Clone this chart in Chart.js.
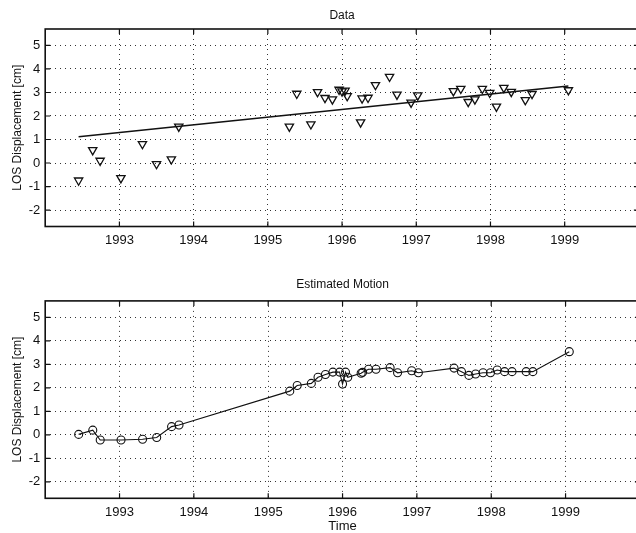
<!DOCTYPE html>
<html>
<head>
<meta charset="utf-8">
<script src="https://cdn.jsdelivr.net/npm/chart.js@4.4.1/dist/chart.umd.min.js"></script>
<style>
  html, body { margin: 0; padding: 0; background: #fff; overflow: hidden; width: 636px; height: 533px; }
  .panel { position: absolute; left: 0; }
  #topPanel { top: 0; }
  #botPanel { top: 262px; }
</style>
</head>
<body>
<div class="panel" id="topPanel"><canvas id="dataChart" width="645" height="262"></canvas></div>
<div class="panel" id="botPanel"><canvas id="motionChart" width="645" height="271"></canvas></div>
<script>
// acquisition dates (decimal years)
const dates = [1992.45, 1992.64, 1992.74, 1993.02, 1993.31, 1993.50, 1993.70, 1993.80,
  1995.29, 1995.39, 1995.58, 1995.67, 1995.77, 1995.87, 1995.96, 1996.00, 1996.04, 1996.07,
  1996.25, 1996.27, 1996.35, 1996.45, 1996.64, 1996.74, 1996.93, 1997.02,
  1997.50, 1997.60, 1997.70, 1997.79, 1997.89, 1997.99, 1998.08, 1998.18, 1998.28,
  1998.47, 1998.56, 1999.05];

// observed LOS displacement (top panel, triangles)
const observed = [-0.74, 0.55, 0.10, -0.64, 0.81, -0.04, 0.16, 1.55,
  1.55, 2.95, 1.65, 3.02, 2.77, 2.71, 3.12, 3.05, 3.08, 2.85,
  1.73, 2.75, 2.78, 3.32, 3.67, 2.91, 2.57, 2.88,
  3.06, 3.16, 2.60, 2.71, 3.16, 2.99, 2.40, 3.20, 3.03,
  2.68, 2.94, 3.10];

// estimated motion (bottom panel, circles)
const estimated = [0.02, 0.20, -0.22, -0.22, -0.19, -0.11, 0.35, 0.42,
  1.86, 2.10, 2.19, 2.45, 2.57, 2.67, 2.67, 2.16, 2.67, 2.45,
  2.62, 2.66, 2.79, 2.79, 2.86, 2.64, 2.73, 2.64,
  2.84, 2.69, 2.53, 2.59, 2.64, 2.64, 2.76, 2.69, 2.69,
  2.69, 2.69, 3.54];

// linear trend in the top panel
const fitYears = [1992.45, 1999.05];
const fitValues = [1.12, 3.28];

const yearTicks = [1993, 1994, 1995, 1996, 1997, 1998, 1999];
const dispTicks = [-2, -1, 0, 1, 2, 3, 4, 5];

const FONT = '"Liberation Sans", Arial, Helvetica, sans-serif';
const INK = '#111';

// box around the axes with inward tick marks (matlab look)
const framePlugin = {
  id: 'frame',
  afterDraw(chart) {
    const { ctx, chartArea: a, scales } = chart;
    const x = scales.x, y = scales.y;
    ctx.save();
    ctx.strokeStyle = INK;
    ctx.lineWidth = 1.6;
    ctx.strokeRect(a.left, a.top, a.right - a.left, a.bottom - a.top);
    ctx.lineWidth = 1.2;
    ctx.beginPath();
    yearTicks.forEach(v => {
      const px = x.getPixelForValue(v);
      ctx.moveTo(px, a.top); ctx.lineTo(px, a.top + 5);
      ctx.moveTo(px, a.bottom); ctx.lineTo(px, a.bottom - 5);
    });
    dispTicks.forEach(v => {
      const py = y.getPixelForValue(v);
      ctx.moveTo(a.left, py); ctx.lineTo(a.left + 5, py);
      ctx.moveTo(a.right, py); ctx.lineTo(a.right - 5, py);
    });
    ctx.stroke();
    ctx.restore();
  }
};

function makeScales(xHeight, showTime) {
  return {
    x: {
      type: 'linear',
      min: 1992,
      max: 2000,
      afterBuildTicks: s => { s.ticks = yearTicks.map(v => ({ value: v })); },
      afterFit: s => { s.height = xHeight; },
      grid: { color: '#333', lineWidth: 1, drawTicks: false },
      border: { display: false, dash: [1, 4] },
      ticks: {
        color: INK, padding: 6, maxRotation: 0, autoSkip: false,
        font: { family: FONT, size: 13 },
        callback: v => String(v)
      },
      title: {
        display: showTime, text: 'Time', color: INK,
        font: { family: FONT, size: 13, lineHeight: 1 },
        padding: { top: 0, bottom: 0 }
      }
    },
    y: {
      type: 'linear',
      min: -2.7,
      max: 5.7,
      afterBuildTicks: s => { s.ticks = dispTicks.map(v => ({ value: v })); },
      afterFit: s => { s.width = 45.2; },
      grid: { color: '#333', lineWidth: 1, drawTicks: false },
      border: { display: false, dash: [1, 4] },
      ticks: {
        color: INK, padding: 5,
        font: { family: FONT, size: 13 },
        callback: v => String(v)
      },
      title: {
        display: true, text: 'LOS Displacement [cm]', color: INK,
        font: { family: FONT, size: 12 },
        padding: { top: 10, bottom: 0 }
      }
    }
  };
}

function makeTitle(text, padTop, padBottom) {
  return {
    display: true, text: text, color: INK, fullSize: false,
    font: { family: FONT, size: 12, weight: 'normal' },
    padding: { top: padTop, bottom: padBottom }
  };
}

const dataConfig = {
  type: 'scatter',
  data: {
    datasets: [{
      label: 'observed',
      data: dates.map((d, i) => ({ x: d, y: observed[i] })),
      showLine: false,
      pointStyle: 'triangle',
      rotation: 180,
      pointRadius: 4.8,
      borderColor: INK,
      backgroundColor: 'rgba(0,0,0,0)',
      borderWidth: 1.3
    }, {
      label: 'trend',
      data: fitYears.map((d, i) => ({ x: d, y: fitValues[i] })),
      showLine: true,
      pointRadius: 0,
      borderColor: INK,
      borderWidth: 1.5
    }]
  },
  options: {
    responsive: false,
    animation: false,
    events: [],
    layout: { padding: 0 },
    scales: makeScales(35.5, false),
    plugins: {
      legend: { display: false },
      tooltip: { enabled: false },
      title: makeTitle('Data', 8, 6.6)
    }
  },
  plugins: [framePlugin]
};

const motionConfig = {
  type: 'scatter',
  data: {
    datasets: [{
      label: 'estimated',
      data: dates.map((d, i) => ({ x: d, y: estimated[i] })),
      showLine: true,
      pointStyle: 'circle',
      pointRadius: 4,
      borderColor: INK,
      backgroundColor: 'rgba(0,0,0,0)',
      borderWidth: 1.1
    }]
  },
  options: {
    responsive: false,
    animation: false,
    events: [],
    layout: { padding: 0 },
    scales: makeScales(34.7, true),
    plugins: {
      legend: { display: false },
      tooltip: { enabled: false },
      title: makeTitle('Estimated Motion', 15.8, 8.7)
    }
  },
  plugins: [framePlugin]
};

new Chart(document.getElementById('dataChart'), dataConfig);
new Chart(document.getElementById('motionChart'), motionConfig);
</script>
</body>
</html>
